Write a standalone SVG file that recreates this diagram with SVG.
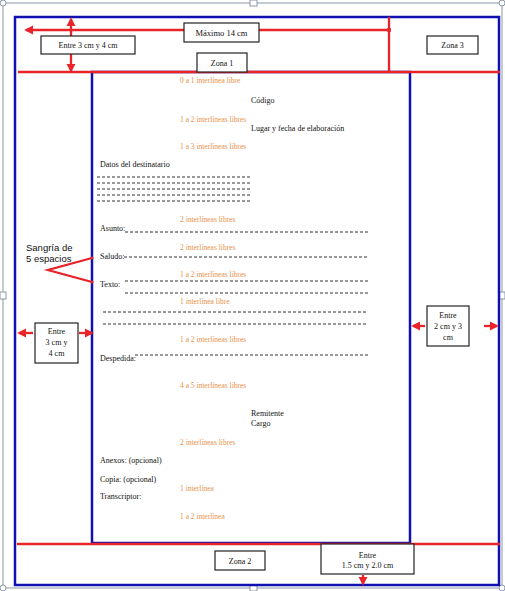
<svg xmlns="http://www.w3.org/2000/svg" width="505" height="591" viewBox="0 0 505 591">
<style>
.t{font-family:"Liberation Serif","Times New Roman",serif;font-size:8px;fill:#111}
.o{font-family:"Liberation Serif","Times New Roman",serif;font-size:7.5px;fill:#E8914A}
.s{font-family:"Liberation Sans",Arial,sans-serif;font-size:9.5px;fill:#111}
.box{fill:#fff;stroke:#222;stroke-width:1.2}
.red{stroke:#E8242A;stroke-width:2.3;fill:none}
.blue{stroke:#1010B0;stroke-width:2.5;fill:none}
.dash{stroke:#333;stroke-width:1;stroke-dasharray:3,2;fill:none}
.c{text-anchor:middle}
</style>
<defs>
<marker id="ah" viewBox="0 0 10 10" refX="8" refY="5" markerWidth="4" markerHeight="4" orient="auto-start-reverse"><path d="M0,0L10,5L0,10z" fill="#E8242A"/></marker>
<marker id="dot" viewBox="0 0 10 10" refX="5" refY="5" markerWidth="2" markerHeight="2"><circle cx="5" cy="5" r="5" fill="#E8242A"/></marker>
</defs>
<rect width="505" height="591" fill="#fff"/>
<g id="frame">
<rect x="3" y="3" width="499" height="585" fill="none" stroke="#8a97a6" stroke-width="1"/>
<circle cx="3" cy="3" r="3" fill="#fff" stroke="#8a97a6"/>
<circle cx="502" cy="3" r="3" fill="#fff" stroke="#8a97a6"/>
<circle cx="3" cy="588" r="3" fill="#fff" stroke="#8a97a6"/>
<circle cx="502" cy="588" r="3" fill="#fff" stroke="#8a97a6"/>
<rect x="250" y="0" width="7" height="6" fill="#fff" stroke="#8a97a6"/>
<rect x="250" y="585" width="7" height="6" fill="#fff" stroke="#8a97a6"/>
<rect x="0" y="292" width="6" height="7" fill="#fff" stroke="#8a97a6"/>
<rect x="499" y="292" width="6" height="7" fill="#fff" stroke="#8a97a6"/>
</g>
<g id="page">
<rect class="blue" x="15" y="17" width="484" height="568"/>
<rect class="blue" x="92" y="72" width="318" height="471"/>
</g>
<g id="connectors">
<line class="red" x1="18" y1="72" x2="500" y2="72"/>
<line class="red" x1="17" y1="544" x2="500" y2="544"/>
<line class="red" x1="389" y1="17" x2="389" y2="72"/>
<line class="red" x1="26" y1="30" x2="389" y2="30" marker-start="url(#ah)" marker-end="url(#dot)"/>
<line class="red" x1="71" y1="19" x2="71" y2="71" marker-start="url(#ah)" marker-end="url(#ah)"/>
<line class="red" x1="33" y1="333" x2="19" y2="333" marker-end="url(#ah)"/>
<line class="red" x1="79" y1="333" x2="92" y2="333" marker-end="url(#ah)"/>
<line class="red" x1="425" y1="326" x2="413" y2="326" marker-end="url(#ah)"/>
<line class="red" x1="484" y1="326" x2="497" y2="326" marker-end="url(#ah)"/>
<line class="red" x1="363" y1="575" x2="363" y2="584" marker-end="url(#ah)"/>
<polyline class="red" points="92,258 48,270 92,282"/>
<circle cx="92" cy="258" r="1.6" fill="#E8242A"/>
<circle cx="92" cy="282" r="1.6" fill="#E8242A"/>
</g>
<g id="maximo"><rect class="box" x="184" y="23" width="75" height="19"/><text class="t c" x="221.5" y="35.5" style="font-size:8.5px">Máximo 14 cm</text></g>
<g id="entre-top"><rect class="box" x="41" y="36" width="94" height="18"/><text class="t c" x="88" y="48">Entre 3 cm y 4 cm</text></g>
<g id="zona1"><rect class="box" x="197" y="53" width="50" height="19"/><text class="t c" x="222" y="66">Zona 1</text></g>
<g id="zona3"><rect class="box" x="427" y="36" width="51" height="18"/><text class="t c" x="452.5" y="48">Zona 3</text></g>
<g id="entre-left"><rect class="box" x="35" y="323" width="43" height="40"/><text class="t c" x="56.5" y="334">Entre</text><text class="t c" x="56.5" y="345">3 cm y</text><text class="t c" x="56.5" y="356">4 cm</text></g>
<g id="entre-right"><rect class="box" x="427" y="306" width="42" height="40"/><text class="t c" x="448" y="318">Entre</text><text class="t c" x="448" y="329">2 cm y 3</text><text class="t c" x="448" y="340">cm</text></g>
<g id="zona2"><rect class="box" x="215" y="551" width="50" height="19"/><text class="t c" x="240" y="564">Zona 2</text></g>
<g id="entre-bottom"><rect class="box" x="321" y="544" width="93" height="30"/><text class="t c" x="367.5" y="558">Entre</text><text class="t c" x="367.5" y="568">1.5 cm y 2.0 cm</text></g>
<g id="sangria"><text class="s" x="26" y="251">Sangría de</text><text class="s" x="26" y="262">5 espacios</text></g>
<g id="content">
<text class="o" x="180" y="83">0 a 1 interlínea libre</text>
<text class="t" x="251" y="103">Código</text>
<text class="o" x="180" y="122">1 a 2 interlíneas libres</text>
<text class="t" x="251" y="131">Lugar y fecha de elaboración</text>
<text class="o" x="180" y="149">1 a 3 interlíneas libres</text>
<text class="t" x="100" y="167">Datos del destinatario</text>
<line class="dash" x1="97" y1="177" x2="250" y2="177"/>
<line class="dash" x1="97" y1="183" x2="250" y2="183"/>
<line class="dash" x1="97" y1="189" x2="250" y2="189"/>
<line class="dash" x1="97" y1="195" x2="250" y2="195"/>
<line class="dash" x1="97" y1="201" x2="250" y2="201"/>
<text class="o" x="180" y="222">2 interlíneas libres</text>
<text class="t" x="100" y="231">Asunto:</text>
<line class="dash" x1="125" y1="232" x2="368" y2="232"/>
<text class="o" x="180" y="250">2 interlíneas libres</text>
<text class="t" x="100" y="259">Saludo:</text>
<line class="dash" x1="124" y1="257" x2="368" y2="257"/>
<text class="o" x="180" y="277">1 a 2 interlíneas libres</text>
<text class="t" x="100" y="287">Texto:</text>
<line class="dash" x1="125" y1="281" x2="368" y2="281"/>
<line class="dash" x1="125" y1="293" x2="368" y2="293"/>
<text class="o" x="180" y="304">1 interlínea libre</text>
<line class="dash" x1="103" y1="312" x2="368" y2="312"/>
<line class="dash" x1="103" y1="324" x2="368" y2="324"/>
<text class="o" x="180" y="342">1 a 2 interlíneas libres</text>
<text class="t" x="100" y="361">Despedida:</text>
<line class="dash" x1="135" y1="355" x2="368" y2="355"/>
<text class="o" x="180" y="388">4 a 5 interlíneas libres</text>
<text class="t" x="251" y="416">Remitente</text>
<text class="t" x="251" y="426">Cargo</text>
<text class="o" x="180" y="445">2 interlíneas libres</text>
<text class="t" x="100" y="463">Anexos: (opcional)</text>
<text class="t" x="100" y="482">Copia: (opcional)</text>
<text class="o" x="180" y="491">1 interlínea</text>
<text class="t" x="100" y="499">Transcriptor:</text>
<text class="o" x="180" y="519">1 a 2 interlínea</text>
</g>
</svg>
